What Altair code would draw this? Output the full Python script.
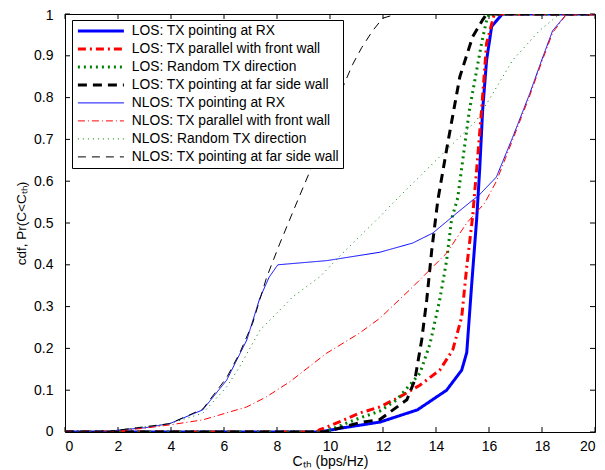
import altair as alt
import pandas as pd

names = [
    "LOS: TX pointing at RX",
    "LOS: TX parallel with front wall",
    "LOS: Random TX direction",
    "LOS: TX pointing at far side wall",
    "NLOS: TX pointing at RX",
    "NLOS: TX parallel with front wall",
    "NLOS: Random TX direction",
    "NLOS: TX pointing at far side wall",
]
colors = ["#0000ff", "#ff0000", "#008000", "#000000", "#0000ff", "#ff0000", "#008000", "#000000"]
widths = [3, 3, 3, 3, 1, 1, 1, 1]
dashes = [[1, 0], [8, 4, 2, 4], [2, 4], [9, 6], [1, 0], [7, 3, 1, 3], [1, 4], [8, 6]]

los_rx_x = [0, 9.6, 10.5, 11.9, 13.3, 14.4, 14.97, 15.16, 15.35, 15.54, 15.65, 15.76, 15.91, 16.1, 16.5, 20]
los_rx_y = [0, 0, 0.01, 0.024, 0.053, 0.10, 0.148, 0.19, 0.356, 0.514, 0.63, 0.77, 0.89, 0.97, 1.0, 1.0]

los_par_x = [0, 9.5, 9.6, 10.35, 11.1, 11.88, 12.63, 13.39, 14.14, 14.63, 14.97, 15.16, 15.38, 15.55, 15.72, 15.91, 16.2, 20]
los_par_y = [0, 0, 0.005, 0.024, 0.045, 0.06, 0.084, 0.112, 0.148, 0.196, 0.275, 0.395, 0.514, 0.64, 0.77, 0.93, 1.0, 1.0]

los_rand_x = [0, 9.8, 11.1, 11.88, 12.52, 13.39, 13.77, 14.14, 14.4, 14.59, 14.82, 15.26, 15.72, 15.91, 16.0, 20]
los_rand_y = [0, 0, 0.033, 0.05, 0.077, 0.14, 0.21, 0.316, 0.41, 0.51, 0.56, 0.77, 0.93, 0.985, 1.0, 1.0]

los_far_x = [0, 9.8, 11.1, 11.88, 12.9, 13.2, 13.46, 13.65, 13.84, 14.07, 14.44, 14.9, 15.38, 15.76, 15.91, 20]
los_far_y = [0, 0, 0.022, 0.03, 0.077, 0.124, 0.22, 0.316, 0.435, 0.555, 0.69, 0.85, 0.945, 0.986, 1.0, 1.0]

nlos_rx_x = [0, 1.5, 2.07, 3.0, 3.95, 5.2, 6.1, 6.86, 7.35, 7.7, 8.03, 9.88, 11.88, 13.12, 13.88, 14.79, 15.39, 15.6, 16.28, 16.9, 17.54, 17.99, 18.4, 18.93, 20]
nlos_rx_y = [0, 0, 0.005, 0.01, 0.02, 0.053, 0.124, 0.22, 0.32, 0.37, 0.40, 0.41, 0.43, 0.452, 0.476, 0.524, 0.555, 0.565, 0.61, 0.706, 0.81, 0.89, 0.96, 1.0, 1.0]

nlos_par_x = [0, 1.5, 2.0, 3.0, 3.95, 5.2, 6.86, 7.6, 8.48, 9.86, 11.1, 11.88, 13.12, 14.4, 15.16, 15.84, 16.28, 16.9, 17.54, 17.99, 18.4, 18.93, 20]
nlos_par_y = [0, 0, 0.003, 0.009, 0.017, 0.029, 0.06, 0.084, 0.12, 0.188, 0.236, 0.272, 0.347, 0.428, 0.5, 0.548, 0.6, 0.70, 0.805, 0.885, 0.955, 1.0, 1.0]

nlos_rand_x = [0, 1.5, 2.07, 3.95, 5.2, 6.1, 6.59, 7.35, 8.59, 9.61, 10.48, 11.88, 12.25, 14.4, 15.54, 16.9, 17.9, 18.67, 20]
nlos_rand_y = [0, 0, 0.005, 0.02, 0.045, 0.108, 0.156, 0.243, 0.323, 0.371, 0.428, 0.515, 0.54, 0.675, 0.746, 0.89, 0.96, 1.0, 1.0]

nlos_far_x = [0, 1.5, 2.07, 3.95, 5.2, 6.1, 6.6, 7.08, 7.61, 8.1, 8.74, 9.35, 10.55, 10.86, 11.2, 11.61, 11.99, 12.52, 20]
nlos_far_y = [0, 0, 0.005, 0.02, 0.055, 0.13, 0.19, 0.26, 0.37, 0.45, 0.548, 0.64, 0.835, 0.88, 0.92, 0.96, 0.99, 1.0, 1.0]

x_ticks = [0, 2, 4, 6, 8, 10, 12, 14, 16, 18, 20]
y_ticks = [0, 0.1, 0.2, 0.3, 0.4, 0.5, 0.6, 0.7, 0.8, 0.9, 1.0]

series_xy = [
    (los_rx_x, los_rx_y), (los_par_x, los_par_y), (los_rand_x, los_rand_y), (los_far_x, los_far_y),
    (nlos_rx_x, nlos_rx_y), (nlos_par_x, nlos_par_y), (nlos_rand_x, nlos_rand_y), (nlos_far_x, nlos_far_y),
]
rows = []
for name, (xs, ys) in zip(names, series_xy):
    for i, (xv, yv) in enumerate(zip(xs, ys)):
        rows.append({"x": xv, "y": yv, "series": name, "i": i})
df = pd.DataFrame(rows)

W, H = 530, 418
xscale = alt.Scale(domain=[0, 20], nice=False, zero=False)
yscale = alt.Scale(domain=[0, 1], nice=False, zero=False)
xaxis = alt.Axis(values=x_ticks, format="d", title="Cₜₕ (bps/Hz)", labelPadding=7, titlePadding=1)
yaxis = alt.Axis(values=y_ticks, format=".1~f", title="cdf, Pr(C<Cₜₕ)", labelPadding=12, titlePadding=5,
                 labelFlush=True, labelFlushOffset=6, titleFontSize=13.5)

lines = alt.Chart(df).mark_line(clip=True).encode(
    x=alt.X("x:Q", scale=xscale, axis=xaxis),
    y=alt.Y("y:Q", scale=yscale, axis=yaxis),
    color=alt.Color("series:N", scale=alt.Scale(domain=names, range=colors), legend=alt.Legend(title=None)),
    strokeDash=alt.StrokeDash("series:N", scale=alt.Scale(domain=names, range=dashes), legend=alt.Legend(title=None)),
    strokeWidth=alt.StrokeWidth("series:N", scale=alt.Scale(type="ordinal", domain=names, range=widths), legend=alt.Legend(title=None)),
    order="i:Q",
)

xt = pd.DataFrame({"x": x_ticks})
yt = pd.DataFrame({"y": y_ticks})
tick_style = dict(color="black", strokeWidth=1)
xb = alt.Chart(xt).mark_rule(**tick_style).encode(
    x=alt.X("x:Q", scale=xscale, axis=xaxis), y=alt.value(H), y2=alt.value(H - 5))
xtp = alt.Chart(xt).mark_rule(**tick_style).encode(
    x=alt.X("x:Q", scale=xscale, axis=xaxis), y=alt.value(0), y2=alt.value(5))
yl = alt.Chart(yt).mark_rule(**tick_style).encode(
    y=alt.Y("y:Q", scale=yscale, axis=yaxis), x=alt.value(0), x2=alt.value(5))
yr = alt.Chart(yt).mark_rule(**tick_style).encode(
    y=alt.Y("y:Q", scale=yscale, axis=yaxis), x=alt.value(W), x2=alt.value(W - 5))

chart = alt.layer(xb, xtp, yl, yr, lines).properties(
    width=W, height=H,
    autosize=alt.AutoSizeParams(type="none"),
    padding={"left": 57, "top": 6, "right": 2, "bottom": 40},
).configure_view(
    stroke="black", strokeWidth=1
).configure_axis(
    grid=False, domain=False, ticks=False, tickSize=0,
    labelFont="Liberation Sans", labelFontSize=14, labelColor="black",
    titleFont="Liberation Sans", titleFontSize=14, titleFontWeight="normal", titleColor="black",
).configure_legend(
    orient="none", legendX=7, legendY=6,
    strokeColor="black", fillColor="white", padding=4,
    symbolType="M-1,0H8.2", symbolSize=100, labelOffset=42,
    labelFont="Liberation Sans", labelFontSize=13.8, labelColor="black", labelLimit=400,
    rowPadding=3, symbolLimit=0,
)

chart.save("out.html", embed_options={"renderer": "svg", "actions": False})
